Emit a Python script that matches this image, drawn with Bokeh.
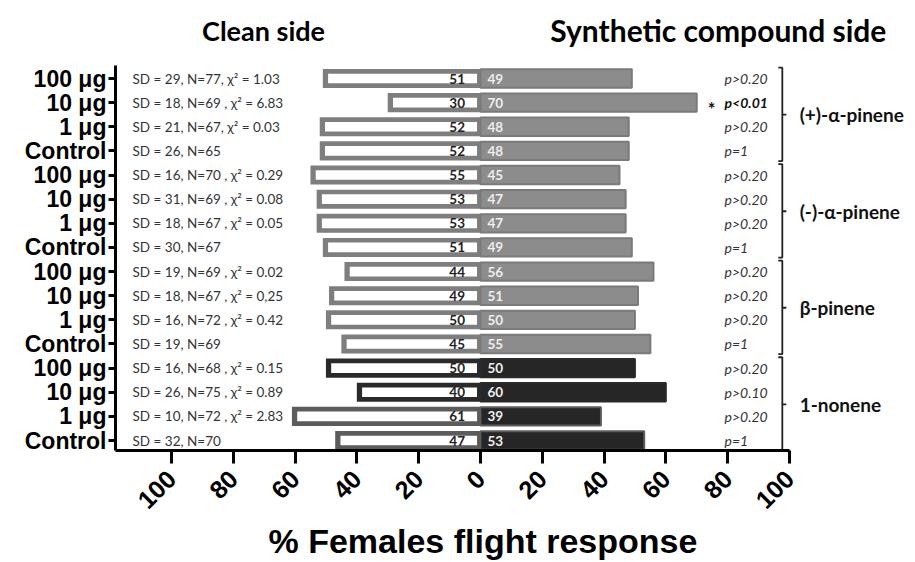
import math
from bokeh.plotting import figure
from bokeh.models import Range1d, FixedTicker, Title, ColumnDataSource
from bokeh.core.properties import value
from bokeh.embed import file_html
from bokeh.resources import INLINE

# ---------------- data ----------------
row_labels = ["100 μg", "10 μg", "1 μg", "Control"] * 4
clean = [51, 30, 52, 52, 55, 53, 53, 51, 44, 49, 50, 45, 50, 40, 61, 47]
synthetic = [49, 70, 48, 48, 45, 47, 47, 49, 56, 51, 50, 55, 50, 60, 39, 53]
stats = [
    "SD = 29, N=77, χ² = 1.03",
    "SD = 18, N=69 , χ² = 6.83",
    "SD = 21, N=67,  χ² = 0.03",
    "SD = 26, N=65",
    "SD = 16, N=70 , χ² = 0.29",
    "SD = 31, N=69 , χ² = 0.08",
    "SD = 18, N=67 , χ² = 0.05",
    "SD = 30, N=67",
    "SD = 19, N=69 , χ² = 0.02",
    "SD = 18, N=67 , χ² = 0,25",
    "SD = 16, N=72 , χ² = 0.42",
    "SD = 19, N=69",
    "SD = 16, N=68 , χ² = 0.15",
    "SD = 26, N=75 , χ² = 0.89",
    "SD = 10, N=72 , χ² = 2.83",
    "SD = 32, N=70",
]
p_values = ["p>0.20", "p<0.01", "p>0.20", "p=1",
            "p>0.20", "p>0.20", "p>0.20", "p=1",
            "p>0.20", "p>0.20", "p>0.20", "p=1",
            "p>0.20", "p>0.10", "p>0.20", "p=1"]
significant = [False, True] + [False] * 14
groups = ["(+)-α-pinene", "(-)-α-pinene", "β-pinene", "1-nonene"]
sides = ["Clean side", "Synthetic compound side"]
x_ticks = [-100, -80, -60, -40, -20, 0, 20, 40, 60, 80, 100]
x_title = "% Females flight response"

n = len(clean)
rows = list(range(n))

# ---------------- styles ----------------
left_col, right_fill, right_line = [], [], []
for i in rows:
    g = i // 4
    if g < 3:
        left_col.append("#7e7e7e"); right_fill.append("#8c8c8c"); right_line.append("#7a7a7a")
    else:
        if i % 4 < 2:
            left_col.append("#2a2a2a"); right_fill.append("#262626"); right_line.append("#2a2a2a")
        else:
            left_col.append("#5c5c5c"); right_fill.append("#262626"); right_line.append("#5c5c5c")

src = ColumnDataSource(dict(
    y=rows,
    left=[-c for c in clean],
    right=synthetic,
    inner_left=[-c + 1.7 for c in clean],
    left_col=left_col, right_fill=right_fill, right_line=right_line,
    clean_txt=[str(c) for c in clean],
    syn_txt=[str(s) for s in synthetic],
    stats=stats,
))

y_lo, y_hi = -0.539, 15.414
p = figure(width=915, height=562, output_backend="svg", toolbar_location=None,
           title=None,
           x_range=Range1d(-118.1, 140.8), y_range=Range1d(y_hi, -3.232),
           min_border_left=115, min_border_right=0, min_border_top=0,
           min_border_bottom=112)
p.outline_line_color = None
p.xgrid.visible = False
p.ygrid.visible = False
p.background_fill_color = "white"

p.hbar(y="y", left="left", right=0, height=0.79, source=src,
       fill_color="left_col", line_color=None)
p.hbar(y="y", left=0, right="right", height=0.76, source=src,
       fill_color="right_fill", line_color="right_line", line_width=2)
p.hbar(y="y", left="inner_left", right=-1.1, height=0.4, source=src,
       fill_color="white", line_color=None)

p.text(x=-5, y="y", text="clean_txt", source=src, text_align="right",
       text_baseline="middle", text_font=value("Lato"), text_font_style="bold",
       text_font_size="13.5px", text_color="#222222")
p.text(x=2.3, y="y", text="syn_txt", source=src, text_align="left",
       text_baseline="middle", text_font=value("Lato"), text_font_style="bold",
       text_font_size="13.5px", text_color="#eeeeee")
p.text(x=-112.6, y="y", text="stats", source=src, text_align="left",
       text_baseline="middle", text_font=value("Lato"),
       text_font_size="13.5px", text_color="#333333")

# p-values
ns_rows = [i for i in rows if not significant[i]]
sig_rows = [i for i in rows if significant[i]]
p.text(x=79.0, y=ns_rows, text=[p_values[i] for i in ns_rows], text_align="left",
       text_baseline="middle", text_font=value("Lato"), text_font_style="italic",
       text_font_size="14px", text_color="#333333")
p.text(x=79.0, y=sig_rows, text=[p_values[i] for i in sig_rows], text_align="left",
       text_baseline="middle", text_font=value("Lato"), text_font_style="bold italic",
       text_font_size="14px", text_color="#111111")
p.text(x=74.8, y=[i + 0.25 for i in sig_rows], text=["*"] * len(sig_rows),
       text_align="center", text_baseline="middle", text_font=value("Lato"),
       text_font_style="bold", text_font_size="18px", text_color="#111111")

# group brackets
bx = 97.7
xs, ys = [], []
for g in range(len(groups)):
    top = 4 * g - 0.45
    bot = 4 * g + 3 + 0.42
    mid = 4 * g + 1.5
    xs.append([bx - 1.3, bx, bx, bx - 1.3]); ys.append([top, top, bot, bot])
    xs.append([bx, bx + 1.3]); ys.append([mid, mid])
p.multi_line(xs=xs, ys=ys, line_color="#222222", line_width=1.8)
p.text(x=103.3, y=[4 * g + 1.5 for g in range(len(groups))], text=groups,
       text_align="left", text_baseline="middle", text_font=value("Lato"),
       text_font_style="bold", text_font_size="19px", text_color="#111111")

# side headings (inside the frame, above the y-axis bounds)
p.text(x=[-70.2], y=[-1.99], text=[sides[0]], text_align="center",
       text_baseline="middle", text_font=value("Lato"), text_font_style="bold",
       text_font_size="27px", text_color="black")
p.text(x=[77.0], y=[-1.99], text=[sides[1]], text_align="center",
       text_baseline="middle", text_font=value("Lato"), text_font_style="bold",
       text_font_size="30px", text_color="black")

# axes
xa = p.xaxis[0]
xa.ticker = FixedTicker(ticks=x_ticks)
xa.major_label_overrides = {t: str(abs(t)) for t in x_ticks}
xa.bounds = (-118.1, 100)
xa.axis_line_width = 3
xa.axis_line_color = "black"
xa.major_tick_line_width = 3
xa.major_tick_out = 13
xa.major_tick_in = 0
xa.minor_tick_line_color = None
xa.major_label_orientation = math.pi / 4
xa.major_label_text_font = "Liberation Sans"
xa.major_label_text_font_style = "bold"
xa.major_label_text_font_size = "25px"
xa.major_label_text_color = "black"
xa.major_label_standoff = 11

ya = p.yaxis[0]
ya.ticker = FixedTicker(ticks=rows)
ya.major_label_overrides = {i: lab for i, lab in enumerate(row_labels)}
ya.bounds = (y_lo, y_hi)
ya.axis_line_width = 3
ya.axis_line_color = "black"
ya.major_tick_line_width = 3
ya.major_tick_out = 7
ya.major_tick_in = 0
ya.minor_tick_line_color = None
ya.major_label_standoff = 2
ya.major_label_text_font = "Liberation Sans"
ya.major_label_text_font_style = "bold"
ya.major_label_text_font_size = "23px"
ya.major_label_text_color = "black"

# x-axis title as a Title below the axis
p.add_layout(Title(text=x_title, align="left", offset=153, standoff=0,
                   text_font="Liberation Sans", text_font_style="bold",
                   text_font_size="34px", text_color="black"), "below")

open("out.html", "w").write(file_html(p, INLINE))
